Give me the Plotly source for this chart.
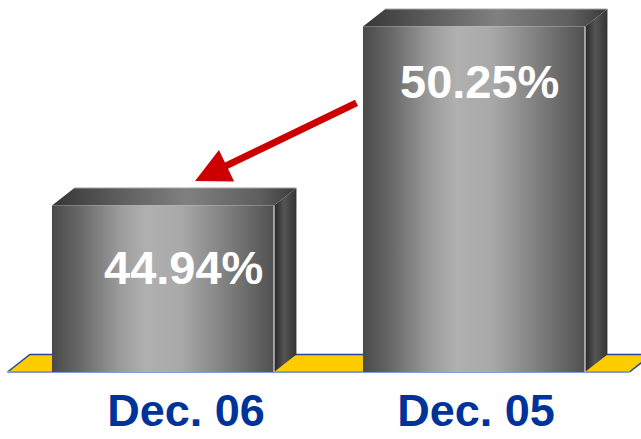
import plotly.graph_objects as go

# ---- data ----
categories = ["Dec. 06", "Dec. 05"]
values = [44.94, 50.25]
value_labels = ["44.94%", "50.25%"]

# ---- style / geometry constants ----
BASE = 40.0          # value at which bars start (truncated axis)
BAR_W = 0.714        # bar width in category units
DX = 0.072           # 3D depth offset (x, category units)
DY = 0.52            # 3D depth offset (y, value units)
W, H = 641, 439
PX_PER_X = 311.0
PX_PER_Y = 33.7
X0_PX, BASE_PX_FROM_BOTTOM = 163.0, 67.0
VALUE_XSHIFT = [20, 5]       # px offsets of the value labels
VALUE_YSHIFT = [-62, -55]
CAT_XSHIFT = [23, 2]         # px offsets of the category labels
CAT_Y_PX = 415               # px from top of the category label anchor

x_min = -X0_PX / PX_PER_X
x_max = x_min + W / PX_PER_X
y_min = BASE - BASE_PX_FROM_BOTTOM / PX_PER_Y
y_max = y_min + H / PX_PER_Y

FRONT_SCALE = [[0.0, "#4a4a4a"], [0.12, "#666666"], [0.30, "#9a9a9a"], [0.42, "#b0b0b0"],
               [0.58, "#a9a9a9"], [0.80, "#7c7c7c"], [1.0, "#505050"]]
TOP_SCALE = [[0.0, "#363636"], [0.25, "#5a5a5a"], [0.55, "#808080"], [0.85, "#5e5e5e"], [1.0, "#3a3a3a"]]
SIDE_SCALE = [[0.0, "#262626"], [0.45, "#555555"], [1.0, "#333333"]]
FONT = "Arial, Liberation Sans, sans-serif"

fig = go.Figure()


def poly(xs, ys, scale=None, color=None):
    kw = dict(x=xs + [xs[0]], y=ys + [ys[0]], mode="lines", fill="toself",
              line=dict(width=0, color="rgba(0,0,0,0)"), hoverinfo="skip", showlegend=False)
    if scale is not None:
        kw["fillgradient"] = dict(type="horizontal", colorscale=scale)
    else:
        kw["fillcolor"] = color
    fig.add_trace(go.Scatter(**kw))


def line(xs, ys, color, width):
    fig.add_trace(go.Scatter(x=xs, y=ys, mode="lines", line=dict(color=color, width=width),
                             hoverinfo="skip", showlegend=False))


# floor
n = len(categories)
fx0, fx1 = -0.5, n - 0.5
poly([fx0, fx1, fx1 + DX, fx0 + DX], [BASE, BASE, BASE + DY, BASE + DY], color="#FFCC00")
line([fx1, fx1 + DX, fx0 + DX, fx0], [BASE, BASE + DY, BASE + DY, BASE], "#2445A0", 1.5)
line([fx0, fx1], [BASE, BASE], "#7E9CD8", 2)

# bars
for i, v in enumerate(values):
    x0, x1 = i - BAR_W / 2, i + BAR_W / 2
    poly([x1, x1 + DX, x1 + DX, x1], [BASE, BASE + DY, v + DY, v], scale=SIDE_SCALE)   # side
    poly([x0, x1, x1 + DX, x0 + DX], [v, v, v + DY, v + DY], scale=TOP_SCALE)          # top
    poly([x0, x1, x1, x0], [BASE, BASE, v, v], scale=FRONT_SCALE)                      # front
    line([x1, x1], [BASE, v], "#ffffff", 1)
    line([x0 + DX, x1 + DX], [v + DY, v + DY], "#a0a0a0", 1)

# value labels
for i, (v, t) in enumerate(zip(values, value_labels)):
    fig.add_annotation(x=i, y=v, text=f"<b>{t}</b>", showarrow=False,
                       xshift=VALUE_XSHIFT[i], yshift=VALUE_YSHIFT[i],
                       font=dict(family=FONT, size=47, color="#ffffff"))

# category labels (text trace)
cat_y = y_min + (H - CAT_Y_PX) / PX_PER_Y
fig.add_trace(go.Scatter(
    x=[i + CAT_XSHIFT[i] / PX_PER_X for i in range(n)], y=[cat_y] * n,
    mode="text", text=[f"<b>{c}</b>" for c in categories], textposition="middle center",
    textfont=dict(family=FONT, size=45, color="#003399"), cliponaxis=False,
    hoverinfo="skip", showlegend=False))

# red arrow pointing from the higher bar to the lower bar
fig.add_annotation(x=0.103, y=values[0] + 0.73, ax=1 - BAR_W / 2 - 0.016, ay=values[1] - 2.24,
                   xref="x", yref="y", axref="x", ayref="y", text="", showarrow=True,
                   arrowhead=2, arrowwidth=7, arrowsize=1, arrowcolor="#CC0000", standoff=0)

fig.update_layout(width=W, height=H, margin=dict(l=0, r=0, t=0, b=0),
                  paper_bgcolor="white", plot_bgcolor="white", showlegend=False,
                  xaxis=dict(range=[x_min, x_max], visible=False, fixedrange=True),
                  yaxis=dict(range=[y_min, y_max], visible=False, fixedrange=True))

fig.write_html("out.html")
